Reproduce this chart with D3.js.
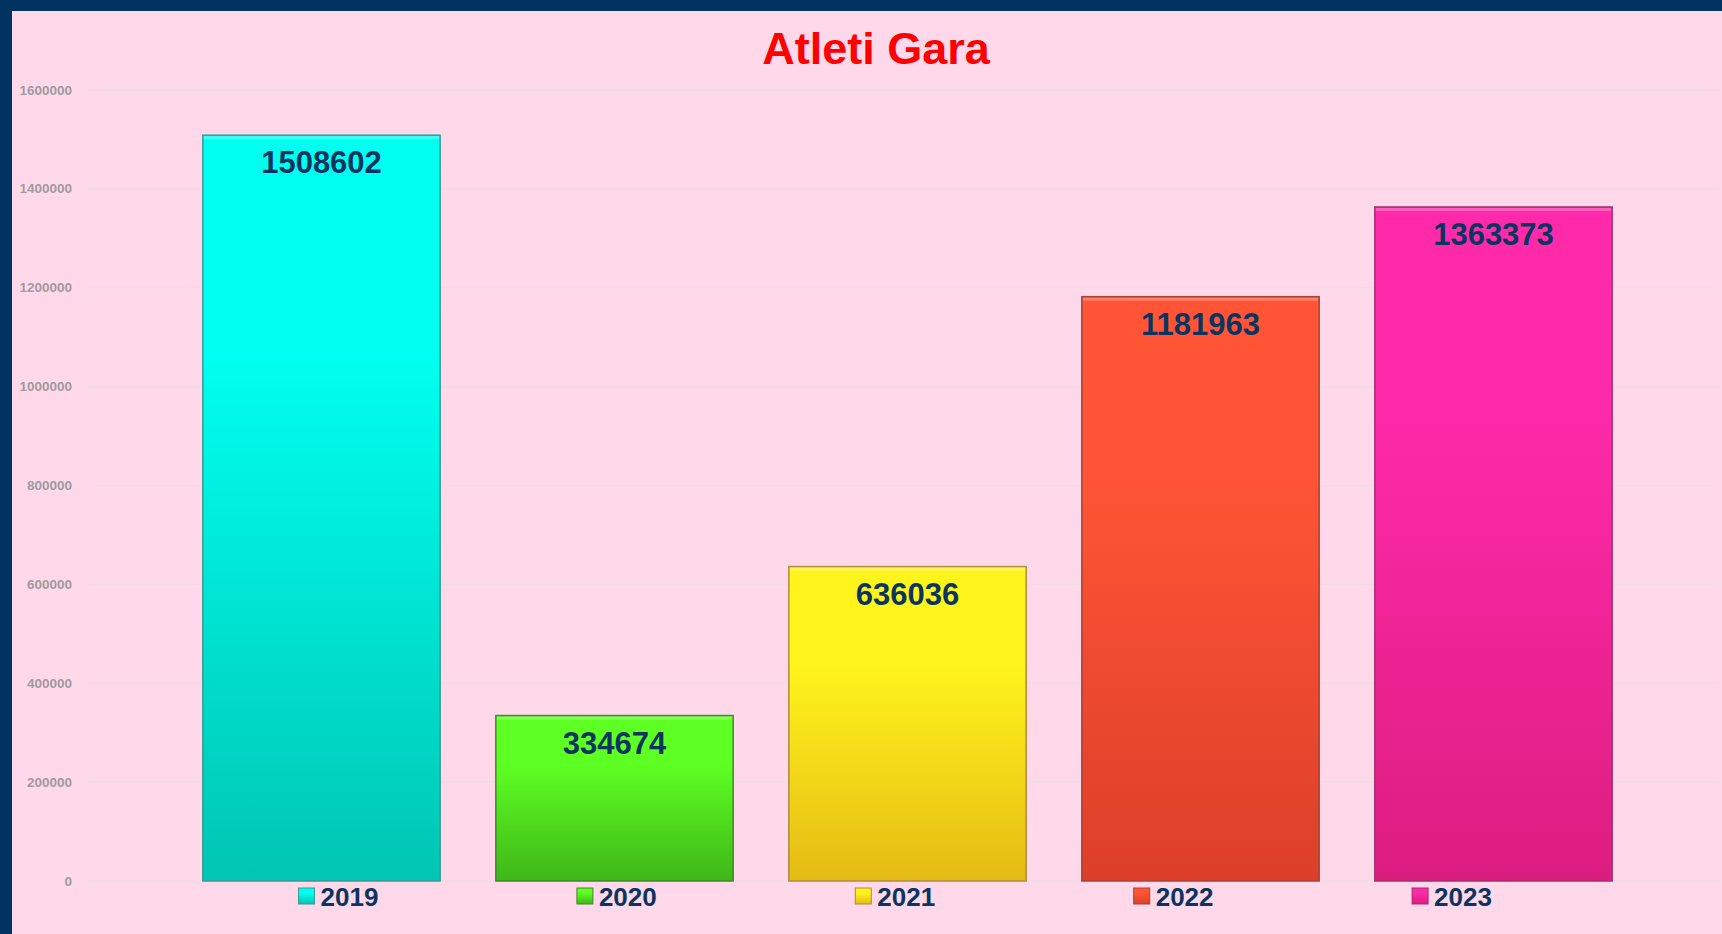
<!DOCTYPE html>
<html lang="it">
<head>
    <meta charset="UTF-8">
    <title>Atleti Gara</title>
    <script src="https://cdn.jsdelivr.net/npm/d3@7/dist/d3.min.js"></script>
    <style>
        html, body {
            margin: 0;
            padding: 0;
            background: #ffd9ea;
            overflow: hidden;
        }
        svg {
            display: block;
            font-family: "Liberation Sans", Arial, Helvetica, sans-serif;
        }
        .grid line {
            stroke: #eedde6;
            stroke-width: 1.5px;
        }
        .tick-label {
            fill: #a09a9e;
            font-size: 13.5px;
            font-weight: bold;
        }
    </style>
</head>
<body>
<script>
    // dimensioni
    const width = 1722;
    const height = 934;

    // dati
    const years = ['2019', '2020', '2021', '2022', '2023'];
    const athletes = [1508602, 334674, 636036, 1181963, 1363373];
    const yTicks = [0, 200000, 400000, 600000, 800000, 1000000, 1200000, 1400000, 1600000];
    const topColors = ['#00fff0', '#5eff22', '#fff51c', '#ff5536', '#ff2aaa'];
    const bottomColors = ['#00c6b3', '#3fb619', '#e5bb14', '#dc3f29', '#dc1d80'];
    const borderColors = ['#3a9a94', '#3d8a2b', '#b08a40', '#a4433b', '#a3306c'];

    let svg = d3.select('body')
        .append('svg')
        .attr('width', width)
        .attr('height', height);

    // sfondo e bordo
    svg.append('rect').attr('width', width).attr('height', height).attr('fill', '#003262');
    svg.append('rect').attr('x', 12).attr('y', 11)
        .attr('width', width - 12).attr('height', height - 11)
        .attr('fill', '#ffd9ea');

    // scale
    let x = d3.scaleBand()
        .domain(years)
        .range([175, 1640])
        .paddingInner(0.19)
        .paddingOuter(0.095);

    let y = d3.scaleLinear()
        .domain([0, 1600000])
        .range([881, 90]);

    // gradienti
    let defs = svg.append('defs');
    years.forEach((yr, i) => {
        let g = defs.append('linearGradient')
            .attr('id', 'grad' + yr)
            .attr('x1', 0).attr('y1', 0).attr('x2', 0).attr('y2', 1);
        g.append('stop').attr('offset', '0%').attr('stop-color', topColors[i]);
        g.append('stop').attr('offset', '30%').attr('stop-color', topColors[i]);
        g.append('stop').attr('offset', '100%').attr('stop-color', bottomColors[i]);
    });

    // griglia
    svg.append('g')
        .attr('class', 'grid')
        .selectAll('line')
        .data(yTicks)
        .enter()
        .append('line')
        .attr('x1', 85)
        .attr('x2', 1719)
        .attr('y1', d => y(d))
        .attr('y2', d => y(d));

    // etichette asse y
    svg.append('g')
        .selectAll('text')
        .data(yTicks)
        .enter()
        .append('text')
        .attr('class', 'tick-label')
        .attr('x', 72)
        .attr('y', d => y(d) + 4.5)
        .attr('text-anchor', 'end')
        .text(d => d);

    // barre
    let bars = svg.append('g')
        .selectAll('g')
        .data(athletes)
        .enter()
        .append('g');

    bars.append('rect')
        .attr('x', (d, i) => x(years[i]))
        .attr('y', d => y(d))
        .attr('width', x.bandwidth())
        .attr('height', d => y(0) - y(d))
        .attr('fill', (d, i) => 'url(#grad' + years[i] + ')')
        .attr('stroke', (d, i) => borderColors[i])
        .attr('stroke-width', 1.5);

    // riflesso superiore
    bars.append('rect')
        .attr('x', (d, i) => x(years[i]) + 1)
        .attr('y', d => y(d) + 1)
        .attr('width', x.bandwidth() - 2)
        .attr('height', 3)
        .attr('fill', '#ffffff')
        .attr('opacity', 0.25);

    // valori
    bars.append('text')
        .attr('x', (d, i) => x(years[i]) + x.bandwidth() / 2)
        .attr('y', d => y(d) + 38)
        .attr('text-anchor', 'middle')
        .attr('fill', '#0b3560')
        .style('font-size', '31px')
        .style('font-weight', 'bold')
        .text(d => d);

    // titolo
    svg.append('text')
        .attr('x', 876)
        .attr('y', 64)
        .attr('text-anchor', 'middle')
        .attr('fill', '#ff0000')
        .style('font-size', '45px')
        .style('font-weight', 'bold')
        .text('Atleti Gara');

    // legenda
    let legend = svg.append('g')
        .selectAll('g')
        .data(years)
        .enter()
        .append('g')
        .attr('transform', (d, i) => 'translate(' + (298.5 + i * 278.4) + ',888)');

    legend.append('rect')
        .attr('width', 16)
        .attr('height', 16)
        .attr('fill', d => 'url(#grad' + d + ')')
        .attr('stroke', (d, i) => borderColors[i])
        .attr('stroke-width', 1);

    legend.append('text')
        .attr('x', 22)
        .attr('y', 18)
        .attr('fill', '#0b3560')
        .style('font-size', '26px')
        .style('font-weight', 'bold')
        .text(d => d);
</script>
</body>
</html>
